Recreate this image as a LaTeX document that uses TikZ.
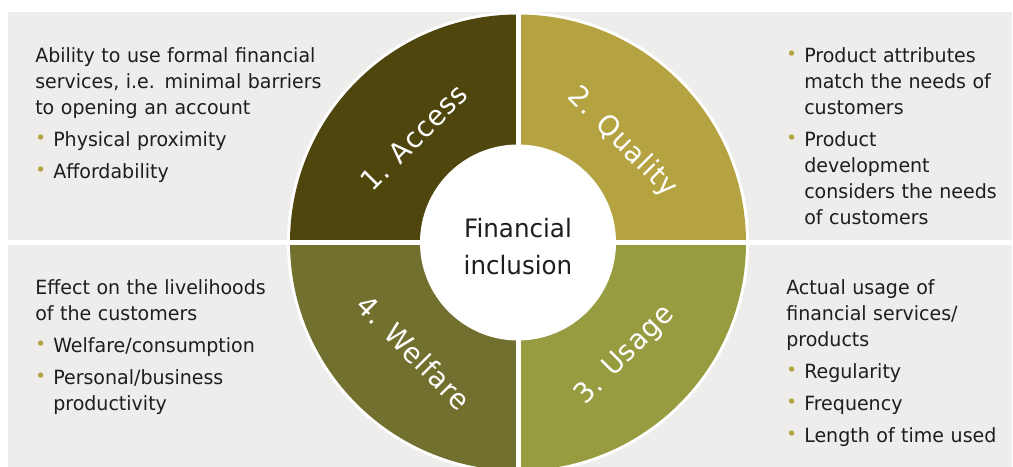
\documentclass[tikz,border=0pt]{standalone}
\usepackage{fontspec}
\setmainfont{DejaVu Sans}[FakeStretch=0.97]
\usetikzlibrary{positioning}
\definecolor{accesscol}{HTML}{4F460E}
\definecolor{qualitycol}{HTML}{B4A340}
\definecolor{usagecol}{HTML}{969C3F}
\definecolor{welfarecol}{HTML}{72702E}
\definecolor{panelgray}{HTML}{EEEDEB}
\definecolor{dotgold}{HTML}{B5A444}
\definecolor{inktext}{HTML}{1E1E1E}
\tikzset{seglabel/.style={text=white, inner sep=0pt, font=\fontsize{21}{21}\selectfont\addfontfeature{LetterSpace=3}}}
\tikzset{infotext/.style={anchor=north west, inner sep=0pt, text width=240pt, align=left, text=inktext, font=\fontsize{14.7}{19.5}\selectfont}}
\tikzset{hub/.style={circle, fill=white, inner sep=0pt, minimum size=147pt}}
\newcommand{\dotline}{\noindent\hangindent=13.5pt\hangafter=1\makebox[13.5pt][l]{\textcolor{dotgold}{\fontsize{14}{14}\selectfont\raisebox{1pt}{•}}}}
\newcommand{\dotitem}{\par\vspace{4.5pt}\dotline}

\begin{document}
\begin{tikzpicture}[x=0.75pt, y=0.75pt]
    \useasboundingbox (0,0) rectangle (1013,467);
    \clip (0,0) rectangle (1013,467);
    % grey panels and the white band between them
    \fill[panelgray] (8,0) rectangle (1012,455);
    \fill[white] (8,222) rectangle (1012,227);

    % the ring
    \coordinate (C) at (518,224.5);
    \fill[white] (C) circle (173.25pt);
    \foreach \ang/\col in {90/accesscol, 0/qualitycol, 270/usagecol, 180/welfarecol}
        \fill[\col] (C) -- ++(\ang:171pt) arc[start angle=\ang, delta angle=90, radius=171pt] -- cycle;
    \draw[white, line width=3.75pt] ([yshift=-175pt]C) -- ([yshift=175pt]C);
    \draw[white, line width=3.75pt] ([xshift=-175pt]C) -- ([xshift=175pt]C);

    \node[hub] (hub) at (C) {};
    \node[align=center, inner sep=0pt, text=inktext, font=\fontsize{19}{28}\selectfont] (hubtxt) at ([yshift=-3.2pt]hub.center) {Financial\\inclusion};

    \node[seglabel, rotate=45] (access) at ([shift={(-104,105)}]hub.center) {1. Access};
    \node[seglabel, rotate=-45] (quality) at ([shift={(104,100)}]hub.center) {2. Quality};
    \node[seglabel, rotate=45] (usage) at ([shift={(107,-113)}]hub.center) {3. Usage};
    \node[seglabel, rotate=-45] (welfare) at ([shift={(-104,-110)}]hub.center) {4. Welfare};

    % text blocks
    \node[infotext] (accessinfo) at (35,420) {Ability to use formal financial\\services, i.e. minimal barriers\\to opening an account
        \dotitem Physical proximity
        \dotitem Affordability\par};
    \node[infotext] (qualityinfo) at (786,420) {\dotline Product attributes\newline match the needs of\newline customers
        \dotitem Product\newline development\newline considers the needs\newline of customers\par};
    \node[infotext] (welfareinfo) at (35,188) {Effect on the livelihoods\\of the customers
        \dotitem Welfare/consumption
        \dotitem Personal/business\newline productivity\par};
    \node[infotext] (usageinfo) at (786,188) {Actual usage of\\financial services/\\products
        \dotitem Regularity
        \dotitem Frequency
        \dotitem Length of time used\par};
\end{tikzpicture}
\end{document}
